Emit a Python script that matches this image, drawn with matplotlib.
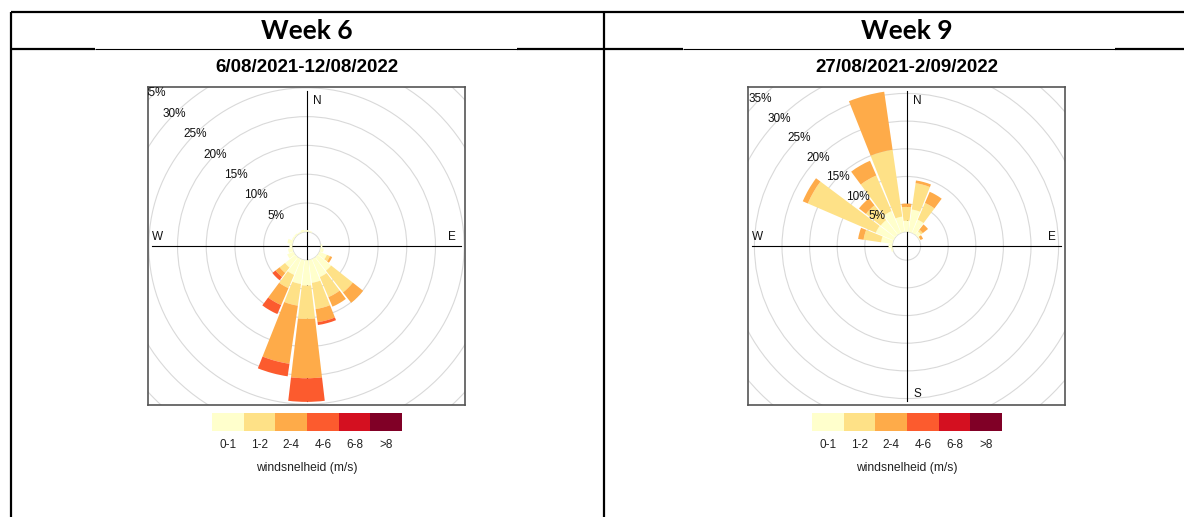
import matplotlib.pyplot as plt
import numpy as np
from matplotlib.patches import Wedge, Circle

plt.rcParams['font.family'] = ['Liberation Sans', 'DejaVu Sans']

# wind direction bins (degrees from north, 15 degree sectors)
directions = np.arange(0, 360, 15)
speed_labels = ['0-1', '1-2', '2-4', '4-6', '6-8', '>8']
speed_colors = ['#FFFFCC', '#FEE187', '#FEAB49', '#FC5B2E', '#D41020', '#800026']

# week 6: frequency (%) per direction for each speed class
wk6_0_1 = [0.3, 0.2, 0, 0, 0, 0, 0.3, 0.6, 1.4, 3.0, 3.4, 4.0,
           4.4, 4.2, 3.0, 2.3, 1.2, 0.8, 0.5, 0.9, 0.3, 0.3, 0.2, 0.4]
wk6_1_2 = [0, 0, 0, 0, 0, 0, 0, 0, 0.6, 4.8, 3.8, 4.6,
           5.8, 3.8, 2.5, 1.2, 0, 0, 0, 0, 0, 0, 0, 0]
wk6_2_4 = [0, 0, 0, 0, 0, 0, 0, 0, 0.4, 2.3, 1.8, 2.3,
           10.3, 10.2, 3.2, 0.9, 0, 0, 0, 0, 0, 0, 0, 0]
wk6_4_6 = [0, 0, 0, 0, 0, 0, 0, 0, 0, 0, 0, 0.5,
           4.1, 2.2, 1.7, 0.7, 0, 0, 0, 0, 0, 0, 0, 0]
wk6_6_8 = [0] * 24
wk6_gt8 = [0] * 24

# week 9
wk9_0_1 = [2.0, 4.1, 2.6, 0.8, 0.2, 0, 0, 0, 0, 0, 0, 0,
           0, 0, 0, 0, 0, 0.3, 0.7, 2.1, 3.5, 3.4, 4.3, 2.8]
wk9_1_2 = [2.5, 4.8, 3.3, 0.4, 0, 0, 0, 0, 0, 0, 0, 0,
           0, 0, 0, 0, 0, 0, 0, 3.2, 13.4, 3.4, 7.0, 12.2]
wk9_2_4 = [0.6, 0.5, 2.2, 1.2, 0.5, 0, 0, 0, 0, 0, 0, 0,
           0, 0, 0, 0, 0, 0, 0, 1.0, 1.0, 1.6, 2.9, 10.6]
wk9_4_6 = [0] * 24
wk9_6_8 = [0] * 24
wk9_gt8 = [0] * 24

weeks = ['Week 6', 'Week 9']
periods = ['6/08/2021-12/08/2022', '27/08/2021-2/09/2022']
week_freqs = [
    [wk6_0_1, wk6_1_2, wk6_2_4, wk6_4_6, wk6_6_8, wk6_gt8],
    [wk9_0_1, wk9_1_2, wk9_2_4, wk9_4_6, wk9_6_8, wk9_gt8],
]

W, H = 1184, 517


def fig_rect(x0, y0, x1, y1):
    return [x0 / W, 1 - y1 / H, (x1 - x0) / W, (y1 - y0) / H]


def draw_rose(ax, freqs):
    freqs = np.array(freqs, dtype=float)
    cum = np.cumsum(freqs, axis=0)
    max_freq = cum[-1].max()
    off = 0.1 * max_freq
    lim = (max_freq + off) * 1.02
    ax.set_xlim(-lim, lim)
    ax.set_ylim(-lim, lim)
    ax.set_xticks([])
    ax.set_yticks([])
    for sp in ax.spines.values():
        sp.set_color('#555555')
        sp.set_linewidth(1.2)

    # grid circles every 5 %
    s45 = np.sin(np.pi / 4)
    for k in range(0, 40, 5):
        ax.add_patch(Circle((0, 0), off + k, fill=False, ec='#d9d9d9', lw=0.8, zorder=1))
        if k > 0:
            ax.text(-(off + k) * s45, (off + k) * s45, f'{k}%', ha='center', va='center',
                    fontsize=8.5, color='#111111', zorder=5, clip_on=True)

    L = 0.972 * lim
    ax.plot([0, 0], [-L, L], color='black', lw=0.8, zorder=2)
    ax.plot([-L, L], [0, 0], color='black', lw=0.8, zorder=2)
    for lab, x, y in [('N', 0.07, 0.91), ('E', 0.92, 0.057), ('W', -0.94, 0.057), ('S', 0.07, -0.93)]:
        ax.text(x * lim, y * lim, lab, ha='center', va='center', fontsize=8.5,
                color='#111111', zorder=2)

    hw = 6.75
    for j, d in enumerate(directions):
        lo = 0.0
        for i in range(len(speed_labels)):
            hi = cum[i, j]
            if hi > lo:
                ax.add_patch(Wedge((0, 0), off + hi, 90 - d - hw, 90 - d + hw, width=hi - lo,
                                   fc=speed_colors[i], ec='none', zorder=3))
            lo = hi


def draw_key(ax):
    ax.bar(np.arange(6) + 0.5, [1] * 6, width=1.0, color=speed_colors)
    ax.set_xlim(0, 6)
    ax.set_ylim(0, 1)
    ax.axis('off')
    for i, lab in enumerate(speed_labels):
        ax.text(i + 0.5, -0.78, lab, ha='center', va='center', fontsize=8.5, color='#222222', clip_on=False)
    ax.text(3, -2.06, 'windsnelheid (m/s)', ha='center', va='center', fontsize=8.7, color='#222222', clip_on=False)


fig = plt.figure(figsize=(W / 100, H / 100), dpi=100)

# table frame
tab = fig.add_axes([0, 0, 1, 1])
tab.set_xlim(0, W)
tab.set_ylim(H, 0)
tab.axis('off')
tab.plot([11, W], [12, 12], color='black', lw=1.6, solid_capstyle='butt')
tab.plot([11, 11], [11.5, H], color='black', lw=1.6, solid_capstyle='butt')
tab.plot([604, 604], [11.5, H], color='black', lw=1.6, solid_capstyle='butt')
for x0, x1, lw in [(11, 95, 1.6), (95, 517, 0.8), (517, 683, 1.6), (683, 1115, 0.8), (1115, W, 1.6)]:
    tab.plot([x0, x1], [49, 49], color='black', lw=lw, solid_capstyle='butt')

for p, dx in enumerate([0, 600]):
    tab.text(307 + dx, 31, weeks[p], ha='center', va='center', fontsize=19,
             fontweight='bold', family=['Lato', 'DejaVu Sans'])
    tab.text(307 + dx, 67, periods[p], ha='center', va='center', fontsize=13.5, fontweight='bold')

    ax = fig.add_axes(fig_rect(148 + dx, 87, 465 + dx, 405))
    draw_rose(ax, week_freqs[p])

    kax = fig.add_axes(fig_rect(212 + dx, 413, 402 + dx, 431))
    draw_key(kax)

fig.savefig('out.png', dpi=100)
